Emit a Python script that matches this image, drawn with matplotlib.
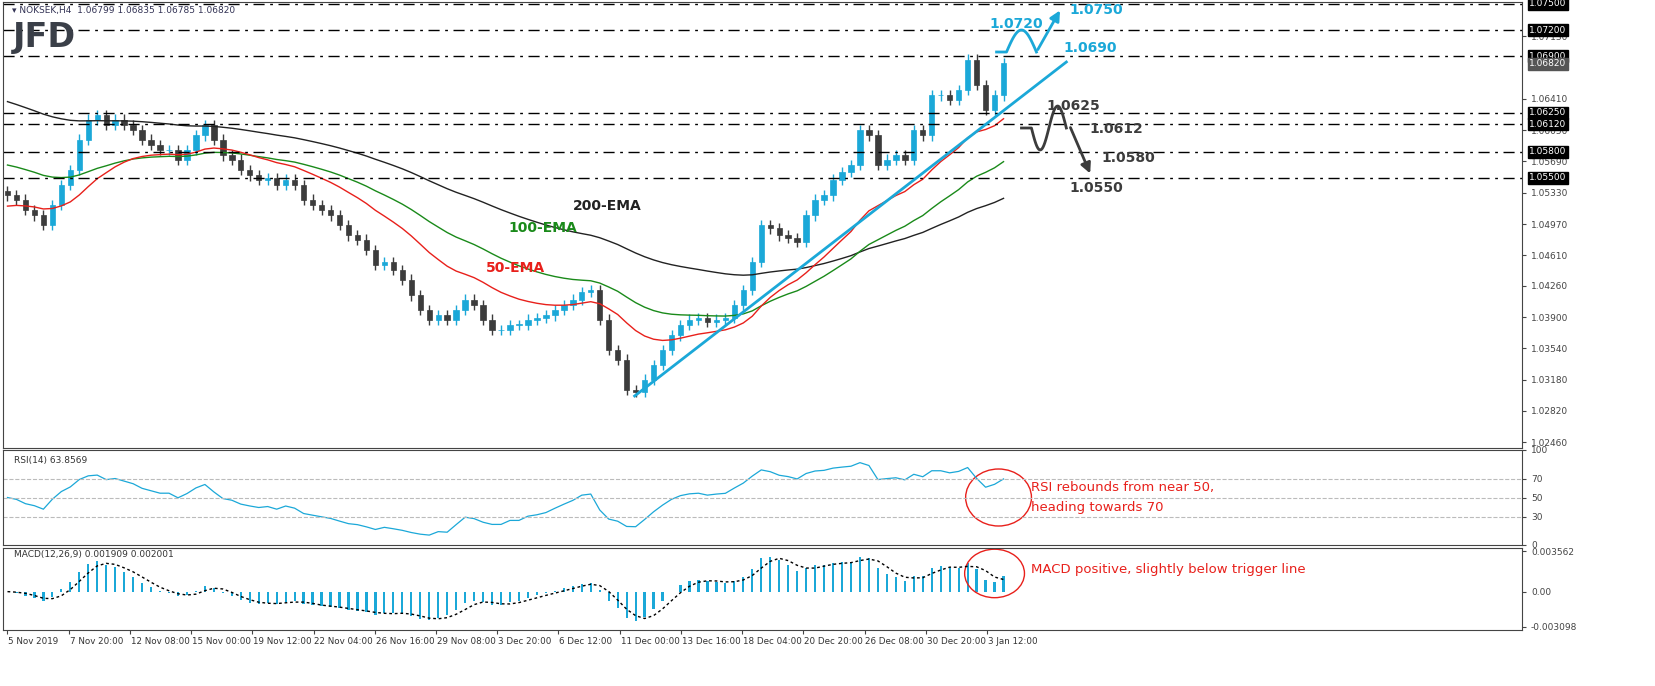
import numpy as np
import pandas as pd
import matplotlib
matplotlib.use("Agg")
import matplotlib.pyplot as plt
from matplotlib.patches import Ellipse

# closes, one per 12h (3 x H4 bars)
closes = [
    1.0530, 1.0525, 1.0513, 1.0507, 1.0496, 1.0519, 1.0542, 1.0559, 1.0594, 1.0617,
    1.0622, 1.0611, 1.0617, 1.0611, 1.0605, 1.0594, 1.0588, 1.0582, 1.0582, 1.0571,
    1.0582, 1.0599, 1.0611, 1.0594, 1.0576, 1.0571, 1.0559, 1.0553, 1.0548, 1.0550,
    1.0542, 1.0548, 1.0542, 1.0525, 1.0519, 1.0513, 1.0507, 1.0496, 1.0484, 1.0479,
    1.0467, 1.0450, 1.0453, 1.0444, 1.0433, 1.0415, 1.0398, 1.0387, 1.0392, 1.0387,
    1.0398, 1.0410, 1.0404, 1.0387, 1.0375, 1.0375, 1.0381, 1.0381, 1.0387, 1.0389,
    1.0392, 1.0398, 1.0404, 1.0410, 1.0419, 1.0421, 1.0387, 1.0352, 1.0341, 1.0306,
    1.0304, 1.0318, 1.0335, 1.0352, 1.0369, 1.0381, 1.0387, 1.0389, 1.0384, 1.0387,
    1.0389, 1.0404, 1.0421, 1.0453, 1.0496, 1.0492, 1.0484, 1.0481, 1.0476, 1.0507,
    1.0525, 1.0530, 1.0548, 1.0557, 1.0565, 1.0605, 1.0599, 1.0565, 1.0571, 1.0576,
    1.0571, 1.0605, 1.0599, 1.0645, 1.0645, 1.0640, 1.0651, 1.0686, 1.0657, 1.0628,
    1.0645, 1.0682,
]
ema_seeds = {"50-EMA": 1.0516, "100-EMA": 1.0567, "200-EMA": 1.0641}
ema_spans = {"50-EMA": 17, "100-EMA": 33, "200-EMA": 67}
ema_colors = {"50-EMA": "#E8201B", "100-EMA": "#1A8A1A", "200-EMA": "#222222"}

levels = [1.0750, 1.0720, 1.0690, 1.0625, 1.0612, 1.0580, 1.0550]
price_ticks = [1.07130, 1.06410, 1.06050, 1.05690, 1.05330, 1.04970,
               1.04610, 1.04260, 1.03900, 1.03540, 1.03180, 1.02820, 1.02460]
date_labels = ["5 Nov 2019", "7 Nov 20:00", "12 Nov 08:00", "15 Nov 00:00", "19 Nov 12:00",
               "22 Nov 04:00", "26 Nov 16:00", "29 Nov 08:00", "3 Dec 20:00", "6 Dec 12:00",
               "11 Dec 00:00", "13 Dec 16:00", "18 Dec 04:00", "20 Dec 20:00", "26 Dec 08:00",
               "30 Dec 20:00", "3 Jan 12:00"]

BLUE = "#1BA8D8"
DARK = "#3C3C3C"
W, H = 1655, 686

closes = np.array(closes)
n = len(closes)
idx = np.arange(n)
opens = np.r_[closes[0] + 0.0005, closes[:-1]]
wick = 0.0006
highs = np.maximum(opens, closes) + wick
lows = np.minimum(opens, closes) - wick

# pixel helpers for annotations
def px(x):
    return (x - 3) / 9.0

def py(y):
    return 1.07546 - y * 0.000115

fig = plt.figure(figsize=(W / 100, H / 100), dpi=100)
plt.rcParams["font.family"] = ["DejaVu Sans"]

def add_ax(top, bottom):
    return fig.add_axes([3 / W, 1 - bottom / H, (1522 - 3) / W, (bottom - top) / H])

ax = add_ax(2, 448)
ax_rsi = add_ax(450, 545)
ax_macd = add_ax(548, 630)
xmax = px(1522)
for a in (ax, ax_rsi, ax_macd):
    a.set_xlim(px(3) - 0.5, xmax)
    a.yaxis.tick_right()
    a.tick_params(axis="y", labelsize=6.5, colors="#444444", length=3)
    a.tick_params(axis="x", length=0)
    a.set_xticklabels([])
    for s in a.spines.values():
        s.set_color("#444444")

ax.set_ylim(py(448), py(2))

# candles
for i in idx:
    c = BLUE if closes[i] >= opens[i] else DARK
    ax.vlines(i, lows[i], highs[i], color=c, lw=1)
    lo, hi = sorted([opens[i], closes[i]])
    ax.bar(i, max(hi - lo, 0.00005), bottom=lo, width=0.6, color=c, edgecolor=c, lw=0.5)

# EMAs
for name in ["200-EMA", "100-EMA", "50-EMA"]:
    s = pd.Series(np.r_[ema_seeds[name], closes])
    e = s.ewm(span=ema_spans[name], adjust=False).mean().values[1:]
    ax.plot(idx, e, color=ema_colors[name], lw=1)

for lv in levels:
    ax.axhline(lv, color="black", lw=1, dashes=(8, 4, 2, 4))

ax.set_yticks(price_ticks)
ax.set_yticklabels([f"{t:.5f}" for t in price_ticks])
box = dict(boxstyle="square,pad=0.15", fc="black", ec="black")
for lv in levels:
    ax.text(xmax + 0.8, lv, f"{lv:.5f}", color="white", fontsize=6.5, va="center",
            ha="left", bbox=box, clip_on=False)
ax.text(xmax + 0.8, closes[-1] - 0.0001, f"{closes[-1]:.5f}", color="white", fontsize=6.5,
        va="center", ha="left", bbox=dict(boxstyle="square,pad=0.15", fc="#555555", ec="#555555"),
        clip_on=False)

# header and logo
ax.text(px(8), py(10), "\u25BE NOKSEK,H4  1.06799 1.06835 1.06785 1.06820", fontsize=6.5,
        color="#333355", va="center")
ax.text(px(8), py(38), "JFD", fontsize=24, fontweight="bold", color="#3A3F48", va="center")

# EMA labels
ax.text(px(570), py(210), "200-EMA", fontsize=10, fontweight="bold", color="#222222")
ax.text(px(505), py(232), "100-EMA", fontsize=10, fontweight="bold", color="#1A8A1A")
ax.text(px(483), py(272), "50-EMA", fontsize=10, fontweight="bold", color="#E8201B")

# trend line
ax.plot([px(632), px(1065)], [py(396), py(62)], color=BLUE, lw=2)

# bullish scenario path
t = np.linspace(0, np.pi, 30)
bx = np.r_[px(995), px(1005), px(1005) + (px(1035) - px(1005)) * t / np.pi]
by = np.r_[py(52), py(52), py(52) + (py(30) - py(52)) * np.sin(t)]
ax.plot(bx, by, color=BLUE, lw=2)
ax.annotate("", xy=(px(1060), py(8)), xytext=(px(1035), py(52)),
            arrowprops=dict(arrowstyle="-|>", color=BLUE, lw=2, mutation_scale=15))
ax.text(px(988), py(28), "1.0720", color=BLUE, fontsize=10, fontweight="bold")
ax.text(px(1068), py(14), "1.0750", color=BLUE, fontsize=10, fontweight="bold")
ax.text(px(1062), py(52), "1.0690", color=BLUE, fontsize=10, fontweight="bold")

# bearish scenario path
kx2 = px(1030) + (px(1065) - px(1030)) * np.linspace(0, 1, 40)
ky2 = py(128) + (py(150) - py(128)) * np.sin(np.linspace(0, 2 * np.pi, 40))
ax.plot(np.r_[px(1020), kx2], np.r_[py(128), ky2], color=DARK, lw=2)
ax.annotate("", xy=(px(1090), py(176)), xytext=(px(1068), py(125)),
            arrowprops=dict(arrowstyle="-|>", color=DARK, lw=2, mutation_scale=15))
ax.text(px(1045), py(110), "1.0625", color=DARK, fontsize=10, fontweight="bold")
ax.text(px(1088), py(133), "1.0612", color=DARK, fontsize=10, fontweight="bold")
ax.text(px(1100), py(162), "1.0580", color=DARK, fontsize=10, fontweight="bold")
ax.text(px(1068), py(192), "1.0550", color=DARK, fontsize=10, fontweight="bold")

# RSI (seeded averages so the line starts near the middle)
s = pd.Series(closes)
d = s.diff().fillna(0)
up = pd.Series(np.r_[0.0006, d.clip(lower=0)]).ewm(alpha=1 / 12, adjust=False).mean()
dn = pd.Series(np.r_[0.0006, (-d).clip(lower=0)]).ewm(alpha=1 / 12, adjust=False).mean()
rsi = (100 - 100 / (1 + up / dn)).values[1:]
ax_rsi.plot(idx, rsi, color=BLUE, lw=0.9)
for lv in (30, 50, 70):
    ax_rsi.axhline(lv, color="#BBBBBB", lw=0.8, ls="--")
ax_rsi.set_ylim(0, 100)
ax_rsi.set_yticks([0, 30, 50, 70, 100])
ax_rsi.text(px(10), 86, "RSI(14) 63.8569", fontsize=6.5, color="#333333")
ax_rsi.add_patch(Ellipse((px(997), 50), px(1030) - px(964), 60, fill=False, ec="#E8201B", lw=1))
ax_rsi.text(px(1030), 50, "RSI rebounds from near 50,\nheading towards 70", color="#E8201B",
            fontsize=9.5, va="center", linespacing=1.6)

# MACD
m = s.ewm(span=4, adjust=False).mean() - s.ewm(span=9, adjust=False).mean()
sig = m.rolling(3, min_periods=1).mean()
ax_macd.bar(idx, m, width=0.25, color=BLUE)
ax_macd.plot(idx, sig, color="black", lw=1, ls=(0, (2, 2)))
top = float(np.abs(m).max()) * 1.15
ax_macd.set_ylim(-top * 0.95, top * 1.08)
ax_macd.set_yticks([-top * 0.87, 0, top])
ax_macd.set_yticklabels(["-0.003098", "0.00", "0.003562"])
ax_macd.text(px(10), top * 0.85, "MACD(12,26,9) 0.001909 0.002001", fontsize=6.5, color="#333333")
ax_macd.add_patch(Ellipse((px(993), top * 0.45), px(1023) - px(963), top * 1.2, fill=False,
                          ec="#E8201B", lw=1))
ax_macd.text(px(1030), top * 0.55, "MACD positive, slightly below trigger line", color="#E8201B",
             fontsize=9.5, va="center")

# date labels
tick_pos = [px(3 + 61.4 * k) for k in range(len(date_labels))]
ax_macd.set_xticks(tick_pos)
ax_macd.tick_params(axis="x", length=3, colors="#444444")
for tp, lab in zip(tick_pos, date_labels):
    ax_macd.text(tp + 0.1, -0.08, lab, transform=ax_macd.get_xaxis_transform(), fontsize=6.3,
                 color="#333333", ha="left", va="top")

fig.savefig("out.png", dpi=100)
